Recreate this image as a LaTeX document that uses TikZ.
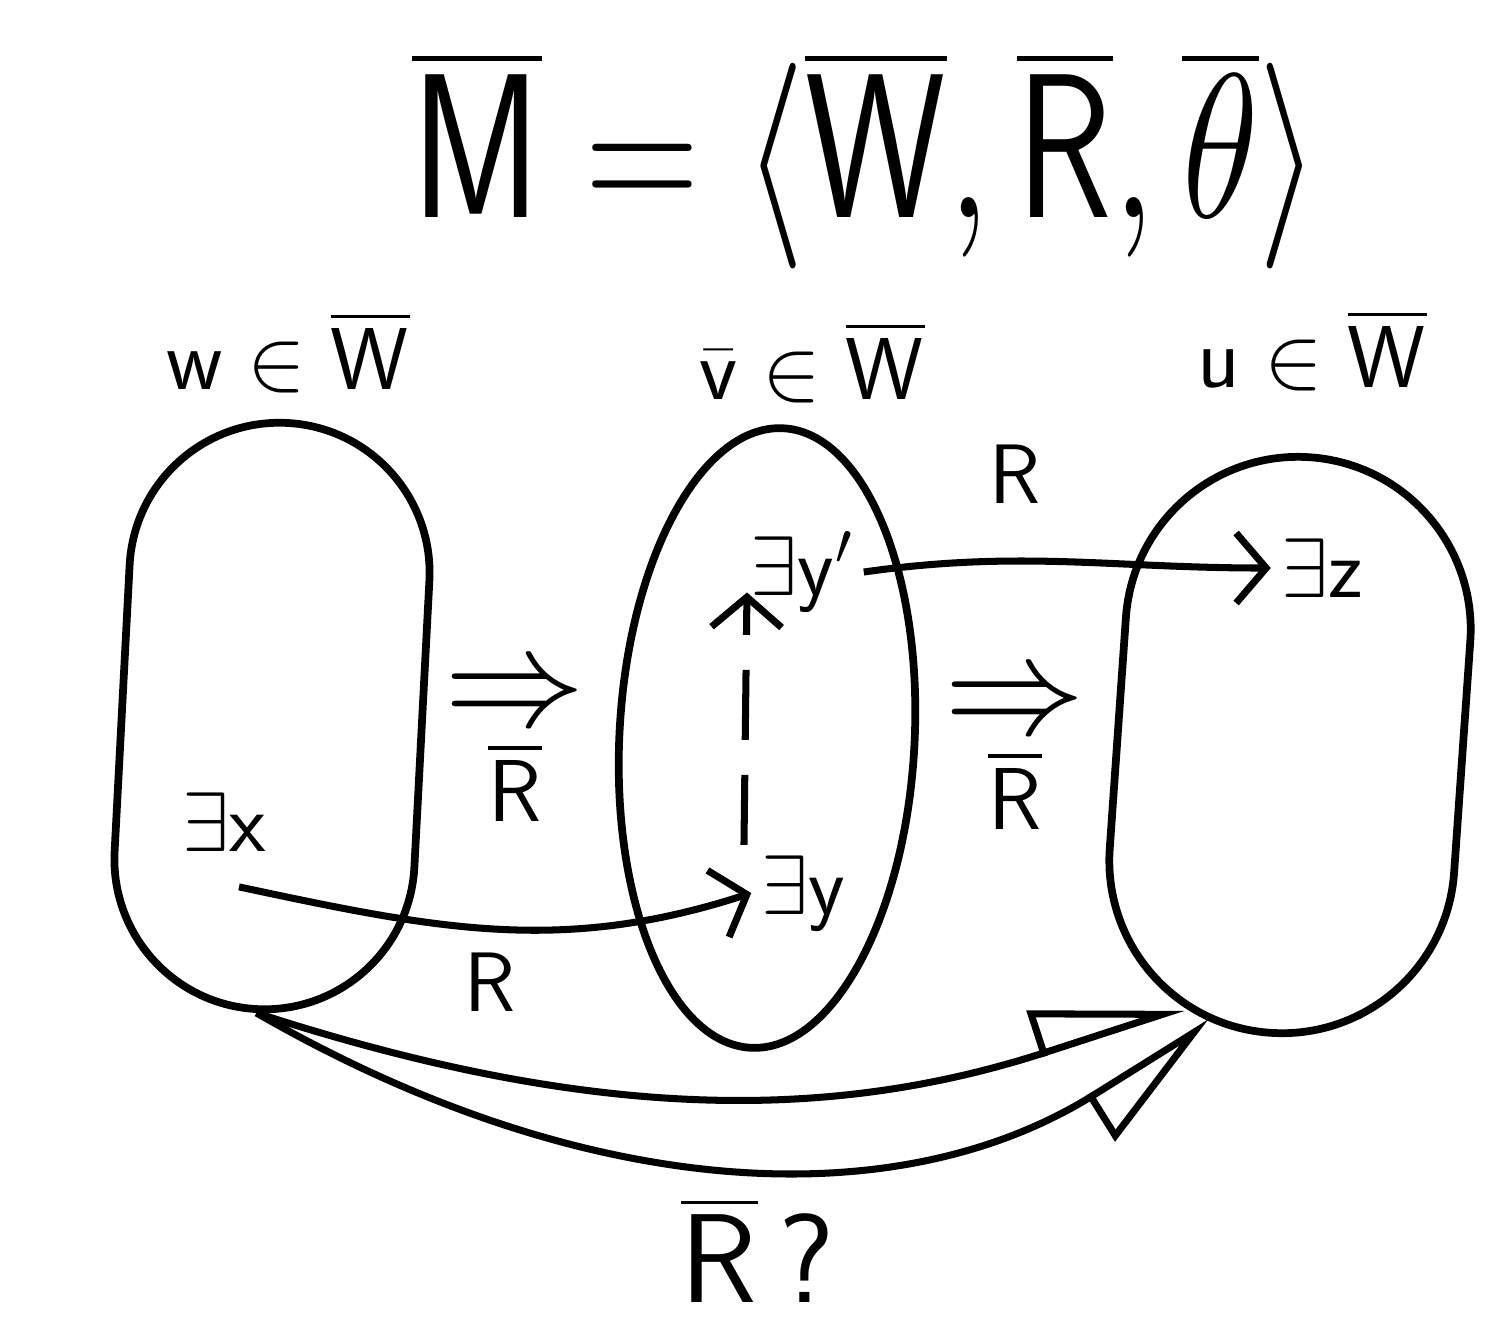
\documentclass[tikz,border=0pt]{standalone}
\usepackage{fix-cm}
\usepackage{xcolor}
\usepackage{tikz}
\usepackage{amsmath}
\usepackage{graphicx}
\usetikzlibrary{arrows.meta,shapes.geometric,shapes.misc}

\begin{document}
\begin{tikzpicture}[x=0.01cm, y=-0.01cm, line width=2pt,
    world/.style={rounded rectangle, draw, line width=2.2pt},
    rel/.style={-{Straight Barb[length=3mm,width=7mm]}},
    lab/.style={font=\fontsize{25}{30}\selectfont},
    elem/.style={font=\fontsize{24}{28}\selectfont, inner sep=2pt},
    impl/.style={font=\fontsize{25}{30}\selectfont}]
    \useasboundingbox (0,0) rectangle (1500,1338);

    % Model
    \node (model) at (866,160) {\fontsize{45}{54}\selectfont\scalebox{1}[1.3]{$\overline{\mathsf{M}}=\langle\overline{\mathsf{W}},\overline{\mathsf{R}},\overline{\theta}\rangle$}};

    % Worlds
    \node (w) [world, rotate=87, minimum width=6.1cm, minimum height=3cm] at (272,716) {};
    \node (v) [ellipse, draw, line width=2.2pt, rotate=-3, minimum width=2.95cm, minimum height=6.2cm] at (767,738) {};
    \node (u) [world, rotate=86, minimum width=6.0cm, minimum height=3.45cm] at (1290,745) {};

    % World labels
    \node (wl) [lab] at (288,352) {$\mathsf{w}\in\overline{\mathsf{W}}$};
    \node (vl) [lab] at (812,362) {$\bar{\mathsf{v}}\in\overline{\mathsf{W}}$};
    \node (ul) [lab] at (1312,350) {$\mathsf{u}\in\overline{\mathsf{W}}$};

    % Individuals
    \node (ex) [elem] at (224,822) {$\exists\mathsf{x}$};
    \node (ey) [elem] at (804,893) {$\exists\mathsf{y}$};
    \node (eyp) [elem] at (802,572) {$\exists\mathsf{y}'$};
    \node (ez) [elem] at (1322,568) {$\exists\mathsf{z}$};

    % Relation labels
    \node (r1) [elem] at (490,982) {$\mathsf{R}$};
    \node (r2) [elem] at (1015,474) {$\mathsf{R}$};
    \node (rr1) [impl] at (515,752) {$\begin{array}{c}\scalebox{1.6}{$\Rightarrow$}\\[-4pt]\overline{\mathsf{R}}\end{array}$};
    \node (rr2) [impl] at (1015,760) {$\begin{array}{c}\scalebox{1.6}{$\Rightarrow$}\\[-4pt]\overline{\mathsf{R}}\end{array}$};
    \node (rq) [font=\fontsize{36}{42}\selectfont] at (758,1250) {$\overline{\mathsf{R}}$\,\textsf{?}};

    % Arrows
    \draw[rel] ([shift={(0.15cm,-0.25cm)}]ex.south) to[out=-12, in=198] (ey.west);
    \draw[rel, dash pattern=on 0.7cm off 0.35cm] ([xshift=-0.6cm]ey.north) -- ([xshift=-0.55cm,yshift=0.3cm]eyp.south);
    \draw[rel] (eyp.east) to[out=8, in=180] (ez.west);
    \draw[-{Triangle[open,left,length=14mm,width=9mm]}] (w.west) to[out=-18, in=198] (u.162);
    \draw[-{Triangle[open,right,length=13.5mm,width=10mm]}] (w.west) to[out=-30, in=212] (u.168);
\end{tikzpicture}
\end{document}
